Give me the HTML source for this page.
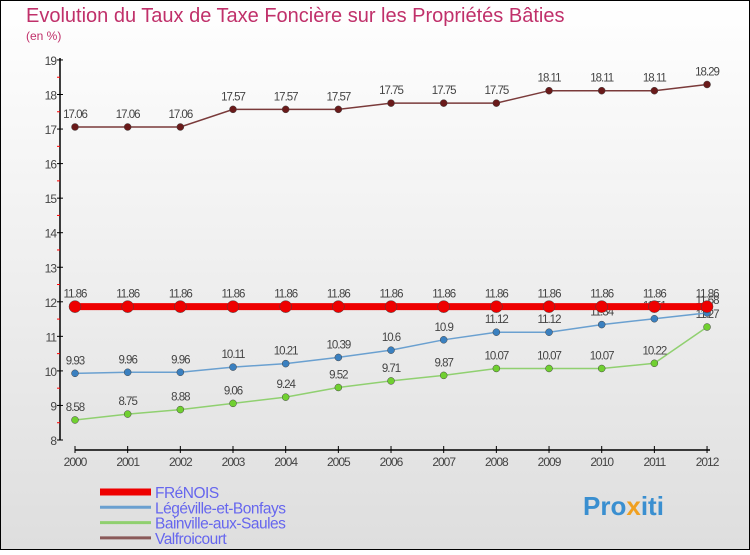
<!DOCTYPE html>
<html><head><meta charset="utf-8"><style>
body{margin:0;width:750px;height:550px;overflow:hidden;font-family:"Liberation Sans",sans-serif}
</style></head><body>
<svg id="c" width="750" height="550" xmlns="http://www.w3.org/2000/svg">
<defs><linearGradient id="bg" x1="0" y1="0" x2="0" y2="1"><stop offset="0" stop-color="#ffffff"/><stop offset="1" stop-color="#dedede"/></linearGradient></defs>
<rect x="0.5" y="0.5" width="749" height="549" fill="url(#bg)" stroke="#000"/>
<text x="26" y="22" font-size="20" fill="#c0306a">Evolution du Taux de Taxe Foncière sur les Propriétés Bâties</text>
<text x="26" y="40" font-size="12" fill="#c0306a">(en %)</text>
<g id="plot"></g>
<g id="legend"></g>
<text x="583" y="515" font-size="26" font-weight="bold" fill="#3a8fd0">Pro<tspan fill="#f0a020">x</tspan>iti</text>
</svg>
<script>
const years=[2000,2001,2002,2003,2004,2005,2006,2007,2008,2009,2010,2011,2012];
const frenois=[11.86,11.86,11.86,11.86,11.86,11.86,11.86,11.86,11.86,11.86,11.86,11.86,11.86];
const legeville=[9.93,9.96,9.96,10.11,10.21,10.39,10.6,10.9,11.12,11.12,11.34,11.51,11.68];
const bainville=[8.58,8.75,8.88,9.06,9.24,9.52,9.71,9.87,10.07,10.07,10.07,10.22,11.27];
const valfroicourt=[17.06,17.06,17.06,17.57,17.57,17.57,17.75,17.75,17.75,18.11,18.11,18.11,18.29];
const yTicks=[8,9,10,11,12,13,14,15,16,17,18,19];
const NS="http://www.w3.org/2000/svg";
const plot=document.getElementById('plot'),leg=document.getElementById('legend');
const X=i=>75+i*52.67, Y=v=>440-(v-8)*34.55;
function mk(t,a,p){const e=document.createElementNS(NS,t);for(const k in a)e.setAttribute(k,a[k]);(p||plot).appendChild(e);return e;}
let e=mk('line',{x1:60,y1:58,x2:60,y2:440,stroke:'#000','stroke-width':1.5});


e=mk('line',{x1:75,y1:450,x2:710,y2:450,stroke:'#000','stroke-width':1.5});


yTicks.forEach((v,i)=>{
  mk('line',{x1:57,y1:Y(v),x2:63,y2:Y(v),stroke:'#000'});
  if(i<yTicks.length-1)mk('line',{x1:57,y1:Y(v+0.5),x2:60,y2:Y(v+0.5),stroke:'#f00'});
  const t=mk('text',{x:56,y:Y(v)+5,'text-anchor':'end','font-size':12,fill:'#444','letter-spacing':-1});
  t.textContent=v;
  
  
});
years.forEach((y,i)=>{
  mk('line',{x1:X(i),y1:446,x2:X(i),y2:453,stroke:'#000'});
  const t=mk('text',{x:X(i),y:466,'text-anchor':'middle','font-size':12,fill:'#444','letter-spacing':-1});
  t.textContent=y;
  
  
});
const series=[
 {d:valfroicourt,c:'#7a3a3a',p:'#6a1a1a',w:1.5,r:3.5,n:'valfroicourt'},
 {d:bainville,c:'#90d070',p:'#70d030',w:1.5,r:3.5,n:'bainville'},
 {d:legeville,c:'#6aa0d0',p:'#3a80c0',w:1.5,r:3.5,n:'legeville'},
 {d:frenois,c:'#ee0000',p:'#ee0000',w:7,r:6,n:'frenois'}];
series.forEach(s=>{
  const l=mk('polyline',{points:s.d.map((v,i)=>X(i)+','+Y(v)).join(' '),fill:'none',stroke:s.c,'stroke-width':s.w});
  
  
  s.d.forEach((v,i)=>{
    const c=mk('circle',{cx:X(i),cy:Y(v),r:s.r,fill:s.p,stroke:'#444','stroke-width':0.5});
    
    
    const t=mk('text',{x:X(i),y:Y(v)-9,'text-anchor':'middle','font-size':11.5,fill:'#444','letter-spacing':-1});
    t.textContent=v;
    
    
  });
});
const names=['FRéNOIS','Légéville-et-Bonfays','Bainville-aux-Saules','Valfroicourt'];
const lc=['#ee0000','#6aa0d0','#90d070','#8a5a5a'],lw=[7,3,3,3];
names.forEach((n,i)=>{
  const yy=492+i*15.3;
  const l=mk('line',{x1:100,y1:yy,x2:151,y2:yy,stroke:lc[i],'stroke-width':lw[i]},leg);
  
  
  const t=mk('text',{x:155,y:yy+6,'font-size':15.5,fill:'#6666ee','letter-spacing':-0.5},leg);
  t.textContent=n;
  
  
});
</script>
</body></html>
